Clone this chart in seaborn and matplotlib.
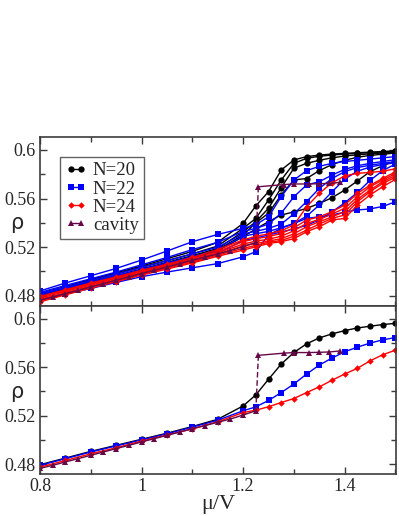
import numpy as np
import pandas as pd
import matplotlib
matplotlib.use("Agg")
import matplotlib.pyplot as plt
from matplotlib.lines import Line2D
import seaborn as sns

# ---------------- data ----------------
MU = [0.8, 0.85, 0.9, 0.95, 1.0, 1.05, 1.1, 1.15, 1.2, 1.225, 1.25, 1.275,
      1.3, 1.325, 1.35, 1.375, 1.4, 1.425, 1.45, 1.475, 1.5]

# top panel: N=20 (black)
N20_curves = [
    [0.482, 0.4875, 0.4935, 0.499, 0.5045, 0.5105, 0.5165, 0.524, 0.5396, 0.554, 0.5657, 0.5835,
     0.5918, 0.5945, 0.5958, 0.5966, 0.5972, 0.5977, 0.5982, 0.5987, 0.5993],
    [0.4815, 0.487, 0.4925, 0.498, 0.5035, 0.509, 0.5145, 0.521, 0.5355, 0.5437, 0.5588, 0.5753,
     0.589, 0.5931, 0.5948, 0.5958, 0.5966, 0.5972, 0.5978, 0.5983, 0.5988],
    [0.481, 0.486, 0.4915, 0.4965, 0.502, 0.5075, 0.513, 0.519, 0.5327, 0.541, 0.552, 0.569,
     0.585, 0.589, 0.5915, 0.5935, 0.595, 0.596, 0.5968, 0.5975, 0.598],
    [0.4805, 0.4855, 0.491, 0.496, 0.501, 0.5065, 0.512, 0.518, 0.530, 0.540, 0.548, 0.563,
     0.5753, 0.5765, 0.583, 0.588, 0.5915, 0.594, 0.5955, 0.5965, 0.5975],
    [0.480, 0.485, 0.4905, 0.4955, 0.5005, 0.5055, 0.511, 0.517, 0.5286, 0.535, 0.541, 0.5465,
     0.549, 0.5519, 0.556, 0.5607, 0.567, 0.5745, 0.5822, 0.5871, 0.591],
]
# top panel: N=22 (blue)
N22_curves = [
    [0.484, 0.4905, 0.4965, 0.5025, 0.5094, 0.5168, 0.5245, 0.5305, 0.5355, 0.5385, 0.545, 0.5616,
     0.5753, 0.583, 0.5865, 0.589, 0.5905, 0.5915, 0.5925, 0.5935, 0.5945],
    [0.4828, 0.4885, 0.494, 0.4995, 0.5055, 0.5115, 0.518, 0.524, 0.533, 0.5355, 0.539, 0.548,
     0.5615, 0.5712, 0.5739, 0.5793, 0.584, 0.587, 0.589, 0.5905, 0.592],
    [0.4818, 0.4872, 0.4925, 0.4978, 0.5033, 0.5088, 0.5145, 0.520, 0.531, 0.533, 0.5355, 0.539,
     0.5475, 0.5575, 0.5684, 0.5765, 0.5822, 0.5855, 0.5875, 0.589, 0.5905],
    [0.481, 0.4862, 0.4913, 0.4965, 0.5017, 0.507, 0.5122, 0.5175, 0.529, 0.531, 0.533, 0.536,
     0.5395, 0.5455, 0.5547, 0.5655, 0.5761, 0.5825, 0.586, 0.588, 0.5895],
    [0.4798, 0.4848, 0.4898, 0.4948, 0.4998, 0.5048, 0.5098, 0.5148, 0.5255, 0.5275, 0.530, 0.5325,
     0.535, 0.538, 0.5425, 0.549, 0.5565, 0.565, 0.575, 0.583, 0.5885],
    [0.4765, 0.4815, 0.486, 0.491, 0.4957, 0.4995, 0.503, 0.5065, 0.5121, 0.5163, 0.530, 0.5355,
     0.5395, 0.5437, 0.545, 0.5464, 0.549, 0.5506, 0.5515, 0.5535, 0.5574],
]
# top panel: N=24 (red)
N24_curves = [
    [0.4795, 0.485, 0.4905, 0.4955, 0.501, 0.506, 0.5115, 0.518, 0.526, 0.529, 0.531, 0.5335,
     0.5382, 0.5533, 0.5643, 0.573, 0.5786, 0.5808, 0.5815, 0.5825, 0.5845],
    [0.479, 0.4843, 0.4897, 0.4948, 0.500, 0.505, 0.5105, 0.5165, 0.5245, 0.527, 0.5286, 0.5313,
     0.536, 0.5423, 0.545, 0.5492, 0.5547, 0.5643, 0.571, 0.5766, 0.582],
    [0.478, 0.4835, 0.4888, 0.494, 0.4992, 0.5043, 0.5095, 0.5155, 0.5225, 0.525, 0.5265, 0.529,
     0.5335, 0.5396, 0.5428, 0.5473, 0.552, 0.5615, 0.5698, 0.5753, 0.5805],
    [0.477, 0.4825, 0.488, 0.4932, 0.4985, 0.5035, 0.5085, 0.5145, 0.521, 0.523, 0.525, 0.527,
     0.531, 0.5368, 0.5409, 0.545, 0.5492, 0.5594, 0.567, 0.5739, 0.579],
    [0.476, 0.4817, 0.4872, 0.4925, 0.4977, 0.5027, 0.5077, 0.5135, 0.519, 0.5215, 0.524, 0.5255,
     0.529, 0.5341, 0.539, 0.5437, 0.5465, 0.5574, 0.5657, 0.5725, 0.5775],
    [0.475, 0.4808, 0.4863, 0.4917, 0.497, 0.502, 0.507, 0.5125, 0.5176, 0.5203, 0.523, 0.5245,
     0.527, 0.5327, 0.5368, 0.5423, 0.5437, 0.5547, 0.563, 0.5698, 0.5758],
]

# bottom panel
N20_bottom = [0.4795, 0.485, 0.4905, 0.4955, 0.5005, 0.5055, 0.511, 0.517, 0.528, 0.5371, 0.550,
              0.5625, 0.5721, 0.5792, 0.5841, 0.5874, 0.5901, 0.5923, 0.5937, 0.5951, 0.5961]
N22_bottom = [0.479, 0.4845, 0.490, 0.495, 0.500, 0.505, 0.5105, 0.5162, 0.524, 0.5272, 0.5325,
              0.539, 0.5461, 0.5543, 0.5617, 0.5675, 0.5726, 0.5765, 0.5798, 0.5825, 0.5844]
N24_bottom = [0.4775, 0.483, 0.4885, 0.4935, 0.499, 0.504, 0.509, 0.515, 0.5225, 0.5245, 0.5273,
              0.5308, 0.5341, 0.539, 0.5437, 0.5492, 0.5543, 0.559, 0.5652, 0.5702, 0.574]

# cavity (both panels)
CAV_LOW_MU = [0.8, 0.825, 0.85, 0.875, 0.9, 0.925, 0.95, 0.975, 1.0, 1.025, 1.05, 1.075,
              1.1, 1.125, 1.15, 1.175, 1.2, 1.225]
CAV_LOW_RHO = [0.4765, 0.479, 0.4818, 0.4845, 0.4873, 0.490, 0.4928, 0.4955, 0.4983, 0.501,
               0.5037, 0.5065, 0.5092, 0.5118, 0.5145, 0.5172, 0.5205, 0.524]
CAV_HIGH_MU = [1.23, 1.28, 1.30, 1.33, 1.35, 1.37, 1.39]
CAV_HIGH_RHO = [0.5697, 0.5715, 0.572, 0.572, 0.5722, 0.5725, 0.5733]

LEGEND_LABELS = ["N=20", "N=22", "N=24", "cavity"]
X_TICKS = [0.8, 1.0, 1.2, 1.4]
X_TICK_LABELS = ["0.8", "1", "1.2", "1.4"]
Y_TICKS = [0.48, 0.52, 0.56, 0.6]
Y_TICK_LABELS = ["0.48", "0.52", "0.56", "0.6"]

# ---------------- style ----------------
sns.set_style("ticks")
plt.rcParams["font.family"] = ["Liberation Serif", "DejaVu Serif"]

C20, C22, C24, CCAV = "#000000", "#0000ff", "#ff0000", "#670748"
SPINE = "#3c3c3c"

fig = plt.figure(figsize=(3.99, 5.16), dpi=100)
ax_top = fig.add_axes([0.1003, 0.4070, 0.8922, 0.3269])
ax_bot = fig.add_axes([0.1003, 0.0808, 0.8922, 0.3262])

mu = np.array(MU)


def draw_curve(ax, x, y, color, marker, ms, ls="-"):
    sns.lineplot(x=np.asarray(x), y=np.asarray(y), color=color, marker=marker,
                 markersize=ms, markeredgewidth=0, linewidth=1.0, linestyle=ls,
                 ax=ax, legend=False, sort=False)


def draw_cavity(ax):
    draw_curve(ax, CAV_LOW_MU, CAV_LOW_RHO, CCAV, "^", 4.0)
    sns.lineplot(x=[CAV_LOW_MU[-1], CAV_HIGH_MU[0]], y=[CAV_LOW_RHO[-1], CAV_HIGH_RHO[0]],
                 color=CCAV, linewidth=1.0, linestyle=(0, (4, 2)), ax=ax, legend=False,
                 sort=False)
    draw_curve(ax, CAV_HIGH_MU, CAV_HIGH_RHO, CCAV, "^", 4.0)


for c in N20_curves:
    draw_curve(ax_top, mu, c, C20, "o", 4.5)
for c in N22_curves:
    draw_curve(ax_top, mu, c, C22, "s", 3.7)
for c in N24_curves:
    draw_curve(ax_top, mu, c, C24, "D", 3.3)
draw_cavity(ax_top)

draw_curve(ax_bot, mu, N20_bottom, C20, "o", 4.5)
draw_curve(ax_bot, mu, N22_bottom, C22, "s", 3.7)
draw_curve(ax_bot, mu, N24_bottom, C24, "D", 3.3)
draw_cavity(ax_bot)

for ax in (ax_top, ax_bot):
    ax.set_xlim(0.8, 1.501)
    ax.set_ylim(0.4716, 0.6104)
    ax.set_xticks(X_TICKS)
    ax.set_xticks([0.9, 1.1, 1.3, 1.5], minor=True)
    ax.set_yticks(Y_TICKS)
    ax.set_yticks([0.50, 0.54, 0.58], minor=True)
    ax.set_yticklabels(Y_TICK_LABELS, fontsize=13)
    ax.tick_params(which="both", direction="in", top=True, right=True,
                   color=SPINE, width=1.0, pad=3)
    ax.tick_params(which="major", length=5)
    ax.tick_params(which="minor", length=3.5)
    for s in ax.spines.values():
        s.set_color(SPINE)
        s.set_linewidth(1.2)
    ax.set_xlabel("")
    ax.set_ylabel("ρ", fontsize=15, rotation=0, labelpad=0,
                  family=["DejaVu Sans"], va="center", ha="center")
    ax.yaxis.set_label_coords(-0.064, 0.49)

ax_top.set_xticklabels([])
ax_bot.set_xticklabels(X_TICK_LABELS, fontsize=13)
ax_bot.set_xlabel("μ/V", fontsize=16, labelpad=0)

handles = [
    Line2D([0], [0], color=C20, marker="o", markersize=4.5, markeredgewidth=0, lw=1.0),
    Line2D([0], [0], color=C22, marker="s", markersize=3.7, markeredgewidth=0, lw=1.0),
    Line2D([0], [0], color=C24, marker="D", markersize=3.3, markeredgewidth=0, lw=1.0),
    Line2D([0], [0], color=CCAV, marker="^", markersize=4.0, markeredgewidth=0, lw=1.0),
]
leg = ax_top.legend(handles, LEGEND_LABELS, loc="upper left",
                    bbox_to_anchor=(0.056, 0.885), fontsize=13.5, numpoints=2,
                    handlelength=1.1, handletextpad=0.35, labelspacing=0.05,
                    borderpad=0.3, borderaxespad=0.0, frameon=True, fancybox=False)
leg.get_frame().set_edgecolor("#3c3c3c")
leg.get_frame().set_linewidth(1.0)

fig.savefig("out.png", dpi=100)
